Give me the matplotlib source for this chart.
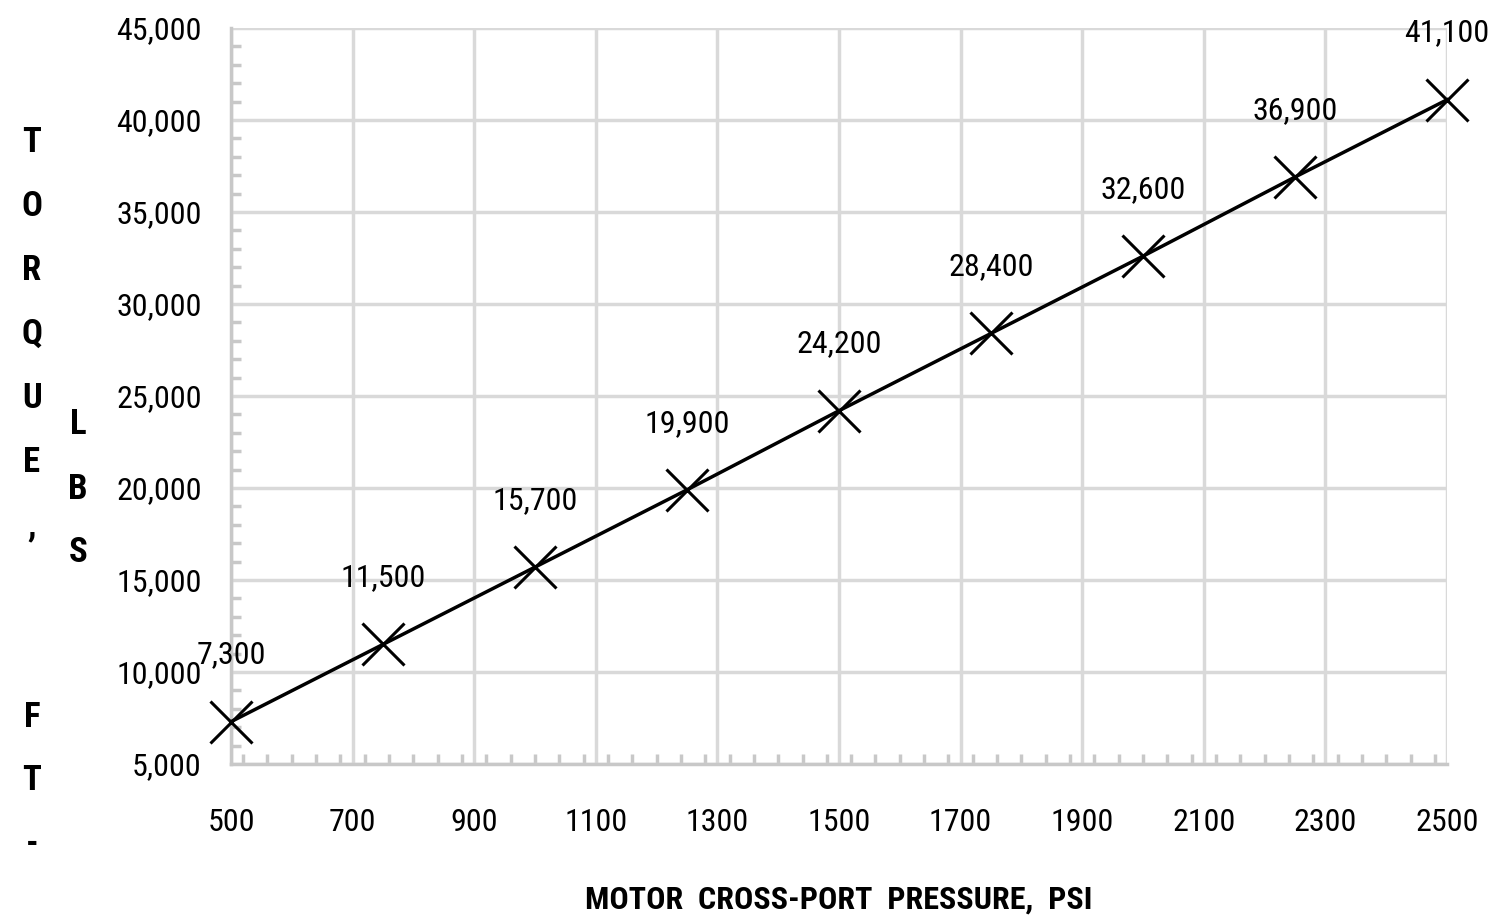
import matplotlib
matplotlib.use("Agg")
import matplotlib.pyplot as plt
from matplotlib.ticker import MultipleLocator, FuncFormatter
from matplotlib import font_manager

# data
pressure = [500, 750, 1000, 1250, 1500, 1750, 2000, 2250, 2500]
torque = [7300, 11500, 15700, 19900, 24200, 28400, 32600, 36900, 41100]
x_ticks = [500, 700, 900, 1100, 1300, 1500, 1700, 1900, 2100, 2300, 2500]
y_ticks = [5000, 10000, 15000, 20000, 25000, 30000, 35000, 40000, 45000]
ylab_col1 = ['T', 'O', 'R', 'Q', 'U', 'E', ',', '', '', 'F', 'T', '-']
ylab_col2 = ['L', 'B', 'S']

names = {f.name for f in font_manager.fontManager.ttflist}
fam = [n for n in ['Liberation Sans Narrow', 'Roboto Condensed', 'DejaVu Sans Condensed']
       if n in names][:1]
plt.rcParams['font.family'] = fam + ['DejaVu Sans']

fig = plt.figure(figsize=(14.96, 9.24), dpi=100)
ax = fig.add_axes([231/1496, 1 - 764/924, (1447-231)/1496, (764-28)/924])

ax.plot(pressure, torque, color='black', lw=2.5, marker='x', ms=30, mew=2.2,
        zorder=3, clip_on=False)
for x, y in zip(pressure, torque):
    ax.annotate(f'{y:,}', (x, y), xytext=(0, 48), textcoords='offset points',
                ha='center', va='center', fontsize=23, color='black')

ax.set_xlim(500, 2500)
ax.set_ylim(5000, 45000)
ax.set_xticks(x_ticks)
ax.set_yticks(y_ticks)
ax.xaxis.set_minor_locator(MultipleLocator(40))
ax.yaxis.set_minor_locator(MultipleLocator(1000))
ax.yaxis.set_major_formatter(FuncFormatter(lambda v, p: f'{int(v):,}'))
ax.grid(True, which='major', color='#d9d9d9', lw=2.5)
ax.set_axisbelow(True)

for s in ['top', 'right']:
    ax.spines[s].set_visible(False)
for s in ['left', 'bottom']:
    ax.spines[s].set_color('#c8c8c8')
    ax.spines[s].set_linewidth(2.5)

ax.tick_params(which='major', length=0, labelsize=23)
ax.tick_params(axis='y', which='major', pad=21)
ax.tick_params(axis='x', which='major', pad=32)
ax.tick_params(which='minor', direction='in', length=7, width=2.5, color='#c8c8c8')

ax.set_xlabel('MOTOR  CROSS-PORT  PRESSURE,  PSI', fontsize=23, fontweight='bold', labelpad=34)

# stacked y label letters
for i, ch in enumerate(ylab_col1):
    if ch:
        fig.text(32/1496, 1 - (143 + i*63.8)/924, ch, fontsize=25, fontweight='bold',
                 ha='center', va='center')
for i, ch in enumerate(ylab_col2):
    fig.text(78/1496, 1 - (425 + i*64)/924, ch, fontsize=25, fontweight='bold',
             ha='center', va='center')

fig.savefig('out.png', dpi=100)
